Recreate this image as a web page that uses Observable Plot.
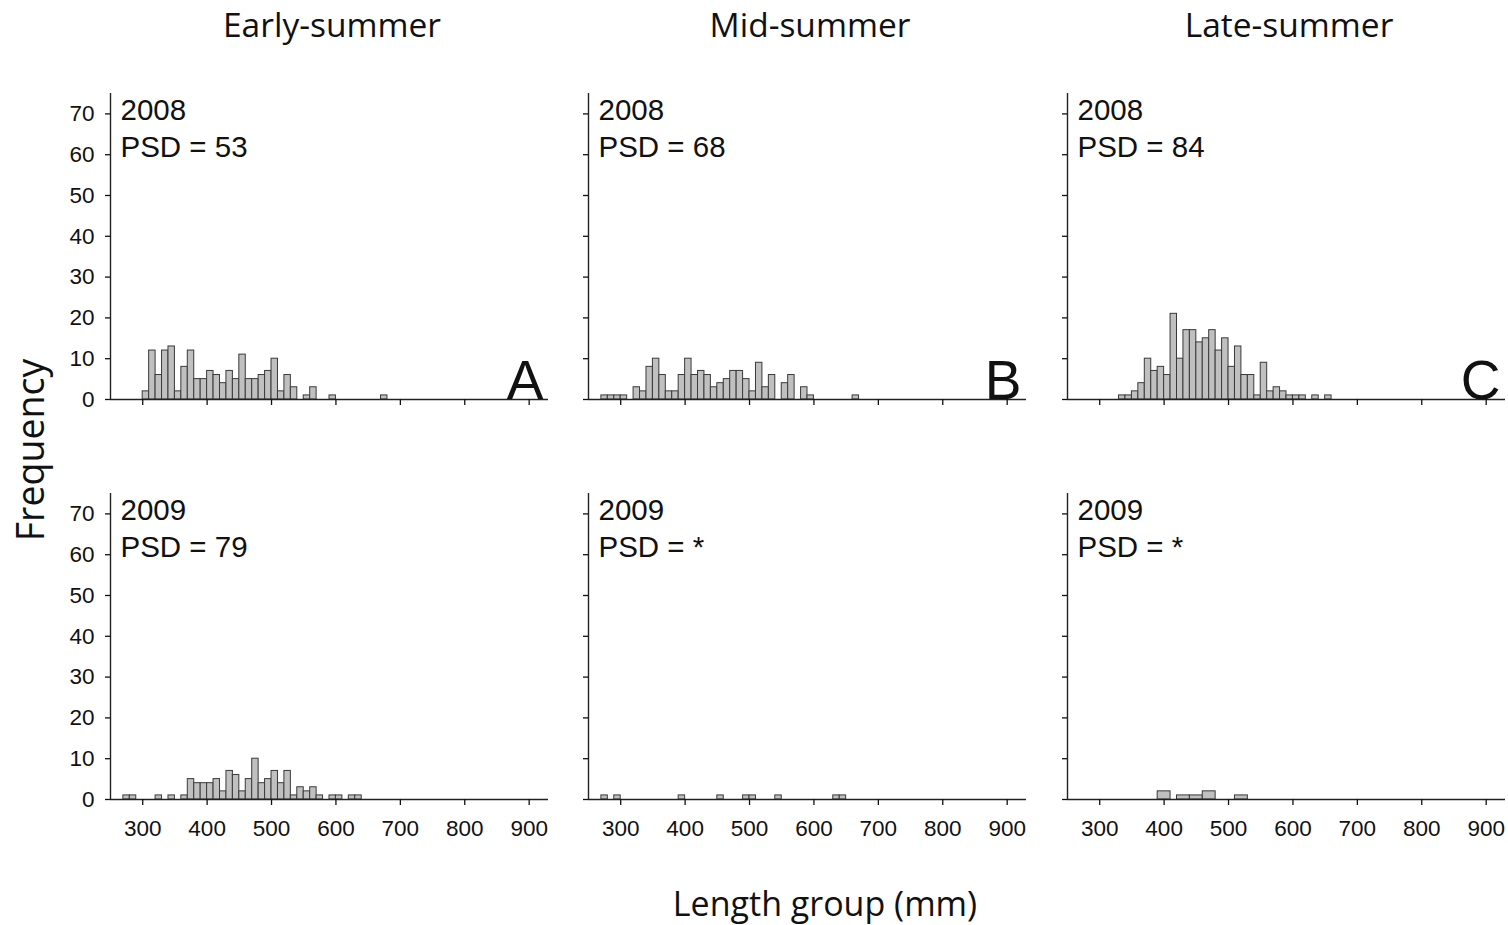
<!DOCTYPE html>
<html><head><meta charset="utf-8">
<script src="https://cdn.jsdelivr.net/npm/d3@7"></script>
<script src="https://cdn.jsdelivr.net/npm/@observablehq/plot@0.6"></script>
<style>
body{margin:0;background:#fff;}
#wrap{position:relative;width:1508px;height:925px;overflow:hidden;background:#fff;}
.panel{position:absolute;}
#overlay{position:absolute;left:0;top:0;pointer-events:none;}
</style></head><body><div id="wrap"></div><script>
const seasons = ["Early-summer", "Mid-summer", "Late-summer"];
const years = ["2008", "2009"];
const psdValues = [["53", "68", "84"], ["79", "*", "*"]];
const panelLetters = ["A", "B", "C"];
const xTicks = [300, 400, 500, 600, 700, 800, 900];
const yTicks = [0, 10, 20, 30, 40, 50, 60, 70];

// [length group start (mm), frequency]
const early2008 = [[300,2],[310,12],[320,6],[330,12],[340,13],[350,2],[360,8],[370,12],[380,5],[390,5],[400,7],[410,6],[420,4],[430,7],[440,5],[450,11],[460,5],[470,5],[480,6],[490,7],[500,10],[510,2],[520,6],[530,3],[550,1],[560,3],[590,1],[670,1]];
const mid2008 = [[270,1],[280,1],[290,1],[300,1],[320,3],[330,2],[340,8],[350,10],[360,6],[370,2],[380,2],[390,6],[400,10],[410,6],[420,7],[430,6],[440,3],[450,4],[460,5],[470,7],[480,7],[490,5],[500,2],[510,9],[520,3],[530,6],[550,4],[560,6],[580,3],[590,1],[660,1]];
const late2008 = [[330,1],[340,1],[350,2],[360,4],[370,10],[380,7],[390,8],[400,6],[410,21],[420,10],[430,17],[440,17],[450,14],[460,15],[470,17],[480,12],[490,15],[500,8],[510,13],[520,6],[530,6],[540,1],[550,9],[560,2],[570,3],[580,2],[590,1],[600,1],[610,1],[630,1],[650,1]];
const early2009 = [[270,1],[280,1],[320,1],[340,1],[360,1],[370,5],[380,4],[390,4],[400,4],[410,5],[420,2],[430,7],[440,6],[450,2],[460,5],[470,10],[480,4],[490,5],[500,7],[510,4],[520,7],[530,1],[540,3],[550,2],[560,3],[570,1],[590,1],[600,1],[620,1],[630,1]];
const mid2009 = [[270,1],[290,1],[390,1],[450,1],[490,1],[500,1],[540,1],[630,1],[640,1]];
const late2009 = [[390,2],[420,1],[440,1],[460,2],[510,1]];
const binWidths = [[10, 10, 10], [10, 10, 20]];
const panelData = [[early2008, mid2008, late2008], [early2009, mid2009, late2009]];

const FONT = "Liberation Sans, Arial, sans-serif";
const axisX0 = [110, 588, 1067];
const axisTop = [93, 493];
const ML = 70, MR = 8, MT = 12, MB = 48, PW = 438, PH = 306;

const wrap = document.getElementById("wrap");

function makePanel(row, col) {
  const data = panelData[row][col];
  const w = binWidths[row][col];
  const marks = [
    Plot.rect(data, {x1: d => d[0], x2: d => d[0] + w, y1: 0, y2: d => d[1], fill: "#c0c0c0", stroke: "#3a3a3a", strokeWidth: 1}),
    Plot.ruleY([0], {stroke: "#222", strokeWidth: 1.4}),
    Plot.ruleX([250], {stroke: "#222", strokeWidth: 1.4}),
    Plot.axisX({ticks: xTicks, tickSize: 6, tickPadding: 15, tickFormat: row === 1 ? d => String(d) : () => "", label: null, strokeWidth: 1.3, fontSize: 22.5}),
    Plot.axisY({ticks: yTicks, tickSize: 5, tickPadding: 11, tickFormat: col === 0 ? d => String(d) : () => "", label: null, strokeWidth: 1.3, fontSize: 22.5}),
    Plot.text([years[row]], {text: d => d, frameAnchor: "top-left", lineAnchor: "top", dx: 10, dy: 6, fontSize: 29.5}),
    Plot.text(["PSD = " + psdValues[row][col]], {text: d => d, frameAnchor: "top-left", lineAnchor: "top", dx: 10, dy: 43, fontSize: 29.5})
  ];
  if (row === 0) {
    marks.push(Plot.text([panelLetters[col]], {text: d => d, frameAnchor: "bottom-right", lineAnchor: "bottom", dx: -5, dy: -1, fontSize: 55}));
  }
  const svg = Plot.plot({
    width: ML + PW + MR, height: MT + PH + MB,
    marginLeft: ML, marginRight: MR, marginTop: MT, marginBottom: MB,
    style: {background: "transparent", fontFamily: FONT, fontSize: "22px", color: "#111", overflow: "visible"},
    x: {domain: [250, 930]},
    y: {domain: [0, 75]},
    marks
  });
  svg.classList.add("panel");
  svg.style.left = (axisX0[col] - ML) + "px";
  svg.style.top = (axisTop[row] - MT) + "px";
  wrap.appendChild(svg);
}

for (let r = 0; r < 2; r++) for (let c = 0; c < 3; c++) makePanel(r, c);

// titles and axis labels
const ov = d3.select(wrap).append("svg").attr("id", "overlay").attr("width", 1508).attr("height", 925);
seasons.forEach((s, i) => {
  ov.append("text").attr("x", axisX0[i] + PW / 2 + 3).attr("y", 37).attr("text-anchor", "middle")
    .attr("font-family", "Open Sans, sans-serif").attr("font-size", 33.5).attr("fill", "#111").text(s);
});
ov.append("text").attr("transform", "translate(44,450) rotate(-90)").attr("text-anchor", "middle")
  .attr("font-family", "Open Sans, sans-serif").attr("font-size", 37.5).attr("fill", "#111").text("Frequency");
ov.append("text").attr("x", 825).attr("y", 916).attr("text-anchor", "middle")
  .attr("font-family", "Open Sans, sans-serif").attr("font-size", 34).attr("fill", "#111").text("Length group (mm)");
</script></body></html>
